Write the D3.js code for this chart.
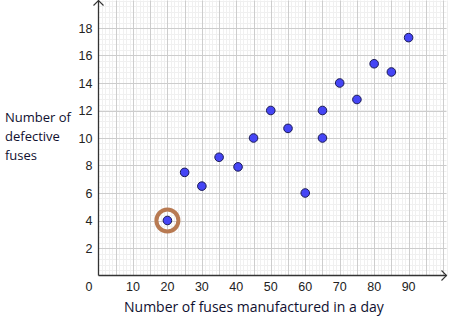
<!DOCTYPE html>
<html>
<head>
<meta charset="utf-8">
<script src="https://cdn.jsdelivr.net/npm/d3@7"></script>
<style>
  body { margin: 0; background: #fff; }
  svg { display: block; }
</style>
</head>
<body>
<div id="canvas"></div>
<script>
// fuses made per day vs defective fuses
const fusesMade = [20, 25, 30, 35, 40.5, 45, 50, 55, 60, 65, 65, 70, 75, 80, 85, 90];
const defective = [4, 7.5, 6.5, 8.6, 7.9, 10, 12, 10.7, 6, 12, 10, 14, 12.8, 15.4, 14.8, 17.3];
const xTickLabels = [10, 20, 30, 40, 50, 60, 70, 80, 90];
const yTickLabels = [2, 4, 6, 8, 10, 12, 14, 16, 18];
const circledIndex = 0;

const width = 450;
const height = 330;

const svg = d3.select("#canvas").append("svg")
  .attr("width", width)
  .attr("height", height);

const x = d3.scaleLinear().domain([0, 101]).range([98.5, 446.5]);
const y = d3.scaleLinear().domain([0, 20]).range([275.5, 0.5]);

// grid
const grid = svg.append("g");
grid.selectAll("line.vmin").data(d3.range(1, 102, 1)).enter().append("line")
  .attr("x1", d => Math.round(x(d)) + 0.5).attr("x2", d => Math.round(x(d)) + 0.5)
  .attr("y1", y(20)).attr("y2", y(0))
  .attr("stroke", "#f0f0f0").attr("stroke-width", 1);
grid.selectAll("line.hmin").data(d3.range(0.4, 20.1, 0.4)).enter().append("line")
  .attr("y1", d => Math.round(y(d)) + 0.5).attr("y2", d => Math.round(y(d)) + 0.5)
  .attr("x1", x(0)).attr("x2", x(101))
  .attr("stroke", "#f0f0f0").attr("stroke-width", 1);
grid.selectAll("line.vmaj").data(d3.range(5, 101, 5)).enter().append("line")
  .attr("x1", d => Math.round(x(d)) + 0.5).attr("x2", d => Math.round(x(d)) + 0.5)
  .attr("y1", y(20)).attr("y2", y(0))
  .attr("stroke", "#cdcdcd").attr("stroke-width", 1);
grid.selectAll("line.hmaj").data(d3.range(2, 20, 2)).enter().append("line")
  .attr("y1", d => Math.round(y(d)) + 0.5).attr("y2", d => Math.round(y(d)) + 0.5)
  .attr("x1", x(0)).attr("x2", x(101))
  .attr("stroke", "#cdcdcd").attr("stroke-width", 1);

// axes
const axisColor = "#333";
svg.append("line")
  .attr("x1", x(0)).attr("x2", x(101)).attr("y1", y(0)).attr("y2", y(0))
  .attr("stroke", axisColor).attr("stroke-width", 1.3);
svg.append("line")
  .attr("x1", x(0)).attr("x2", x(0)).attr("y1", y(0)).attr("y2", y(20))
  .attr("stroke", axisColor).attr("stroke-width", 1.3);
svg.append("path")
  .attr("d", `M${x(101) - 5},${y(0) - 5} L${x(101)},${y(0)} L${x(101) - 5},${y(0) + 5}`)
  .attr("fill", "none").attr("stroke", axisColor).attr("stroke-width", 1.1);
svg.append("path")
  .attr("d", `M${x(0) - 5},${y(20) + 5} L${x(0)},${y(20)} L${x(0) + 5},${y(20) + 5}`)
  .attr("fill", "none").attr("stroke", axisColor).attr("stroke-width", 1.1);

// tick labels
const tickFont = "'Liberation Sans', Arial, sans-serif";
svg.selectAll("text.xt").data(xTickLabels).enter().append("text")
  .attr("x", d => x(d)).attr("y", y(0) + 15)
  .attr("text-anchor", "middle")
  .style("font-family", tickFont).style("font-size", "12.5px").attr("fill", "#222")
  .text(d => d);
svg.selectAll("text.yt").data(yTickLabels).enter().append("text")
  .attr("x", x(0) - 6).attr("y", d => y(d) + 4.5)
  .attr("text-anchor", "end")
  .style("font-family", tickFont).style("font-size", "12.5px").attr("fill", "#222")
  .text(d => d);
svg.append("text")
  .attr("x", x(0) - 6).attr("y", y(0) + 15)
  .attr("text-anchor", "end")
  .style("font-family", tickFont).style("font-size", "12.5px").attr("fill", "#222")
  .text("0");

// axis titles
const titleFont = "'Open Sans', 'Noto Sans', sans-serif";
svg.append("text")
  .attr("x", 124).attr("y", 312)
  .style("font-family", titleFont).style("font-size", "14px").attr("fill", "#101030")
  .text("Number of fuses manufactured in a day");
const yTitle = svg.append("text")
  .style("font-family", titleFont).style("font-size", "13px").attr("fill", "#101030");
["Number of", "defective", "fuses"].forEach((t, i) => {
  yTitle.append("tspan").attr("x", 5).attr("y", 122 + i * 19).text(t);
});

// highlight ring
svg.append("circle")
  .attr("cx", x(fusesMade[circledIndex])).attr("cy", y(defective[circledIndex]))
  .attr("r", 11)
  .attr("fill", "none").attr("stroke", "#b87a52").attr("stroke-width", 4);

// points
svg.selectAll("circle.pt").data(fusesMade).enter().append("circle")
  .attr("class", "pt")
  .attr("cx", d => x(d))
  .attr("cy", (d, i) => y(defective[i]))
  .attr("r", 4.3)
  .attr("fill", "#4545f5")
  .attr("stroke", "#1b1b55").attr("stroke-width", 1);
</script>
</body>
</html>
